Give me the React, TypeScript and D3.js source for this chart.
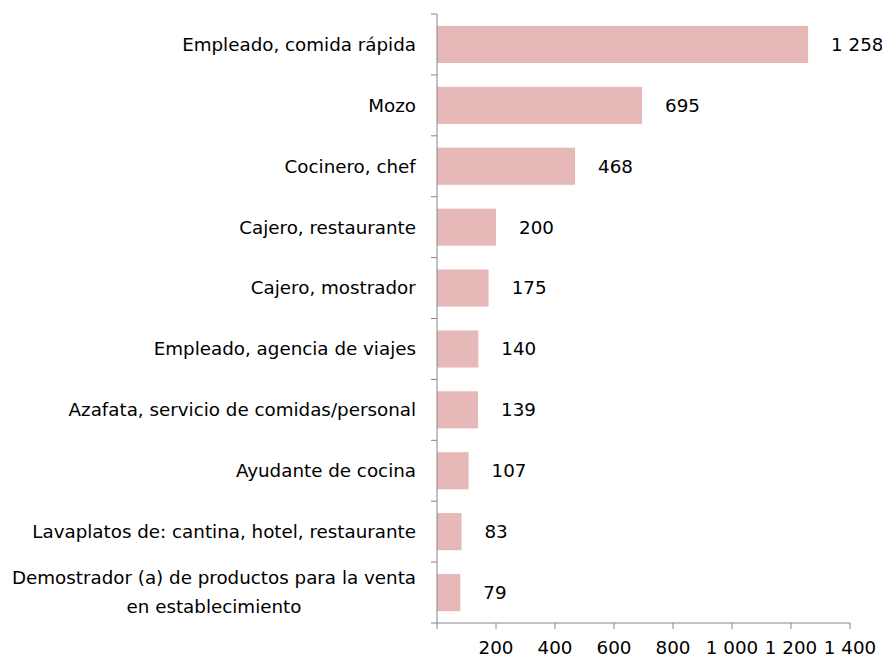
import { useEffect, useRef } from 'react';
import * as d3 from 'd3';

const categories = [
  'Empleado, comida rápida',
  'Mozo',
  'Cocinero, chef',
  'Cajero, restaurante',
  'Cajero, mostrador',
  'Empleado, agencia de viajes',
  'Azafata, servicio de comidas/personal',
  'Ayudante de cocina',
  'Lavaplatos de: cantina, hotel, restaurante',
  'Demostrador (a) de productos para la venta\nen establecimiento',
];
const values = [1258, 695, 468, 200, 175, 140, 139, 107, 83, 79];
const xTicks = [0, 200, 400, 600, 800, 1000, 1200, 1400];

const fmt = (v: number) => d3.format(',')(v).replace(/,/g, ' ');

export default function App() {
  const svgRef = useRef<SVGSVGElement | null>(null);

  useEffect(() => {
    if (!svgRef.current) return;
    const svg = d3.select(svgRef.current);
    svg.selectAll('*').remove();

    const left = 437;
    const right = 850;
    const top = 14;
    const bottom = 623;
    const font = 'DejaVu Sans, sans-serif';
    const fontSize = 18.3;
    const axisColor = '#868686';

    const x = d3.scaleLinear().domain([0, 1400]).range([left, right]);
    const y = d3.scaleBand<string>().domain(categories).range([top, bottom]).paddingInner(0.39).paddingOuter(0.195);
    const band = (bottom - top) / categories.length;

    // Bars
    svg.append('g')
      .selectAll('rect')
      .data(values)
      .enter()
      .append('rect')
      .attr('x', x(0))
      .attr('y', (_, i) => y(categories[i]) as number)
      .attr('width', d => x(d) - x(0))
      .attr('height', y.bandwidth())
      .attr('fill', '#E6B9B8');

    // Value labels
    svg.append('g')
      .selectAll('text')
      .data(values)
      .enter()
      .append('text')
      .attr('x', d => x(d) + 23)
      .attr('y', (_, i) => (y(categories[i]) as number) + y.bandwidth() / 2)
      .attr('dy', '0.35em')
      .attr('font-family', font)
      .attr('font-size', fontSize)
      .attr('fill', '#000')
      .text(d => fmt(d));

    // Y axis line and ticks between categories
    const yAxis = svg.append('g');
    yAxis.append('line')
      .attr('x1', left).attr('x2', left)
      .attr('y1', top).attr('y2', bottom)
      .attr('stroke', axisColor);
    yAxis.selectAll('.ytick')
      .data(d3.range(categories.length + 1))
      .enter()
      .append('line')
      .attr('x1', left - 6).attr('x2', left)
      .attr('y1', i => top + i * band)
      .attr('y2', i => top + i * band)
      .attr('stroke', axisColor);

    // Category labels
    const catLabels = yAxis.selectAll('.ylabel')
      .data(categories)
      .enter()
      .append('text')
      .attr('font-family', font)
      .attr('font-size', fontSize)
      .attr('fill', '#000')
      .attr('text-anchor', 'middle')
      .attr('transform', d => `translate(0,${(y(d) as number) + y.bandwidth() / 2})`);
    catLabels.each(function (d) {
      const lines = d.split('\n');
      const t = d3.select(this);
      lines.forEach((ln, j) => {
        t.append('tspan')
          .attr('x', 0)
          .attr('y', (j - (lines.length - 1) / 2) * 29)
          .attr('dy', '0.35em')
          .text(ln);
      });
      const w = (this as SVGTextElement).getBBox().width;
      t.attr('transform', `translate(${left - 21 - w / 2},${(y(d) as number) + y.bandwidth() / 2})`);
    });

    // X axis
    const xAxis = svg.append('g').attr('transform', `translate(0,${bottom})`);
    xAxis.append('line')
      .attr('x1', left).attr('x2', right)
      .attr('stroke', axisColor);
    xAxis.selectAll('.xtick')
      .data(xTicks)
      .enter()
      .append('line')
      .attr('x1', d => x(d)).attr('x2', d => x(d))
      .attr('y1', 0).attr('y2', 6)
      .attr('stroke', axisColor);
    xAxis.selectAll('.xlabel')
      .data(xTicks.filter(d => d > 0))
      .enter()
      .append('text')
      .attr('x', d => x(d))
      .attr('y', 31)
      .attr('text-anchor', 'middle')
      .attr('font-family', font)
      .attr('font-size', fontSize)
      .attr('fill', '#000')
      .text(d => fmt(d));
  }, []);

  return (
    <svg ref={svgRef} width={882} height={664} style={{ position: 'absolute', left: 0, top: 0 }} />
  );
}
